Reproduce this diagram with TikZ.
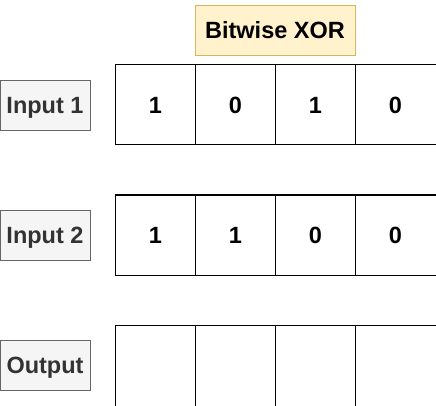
\documentclass[tikz,border=0pt]{standalone}
\usepackage{fontspec}
\setmainfont{Liberation Sans}
\usetikzlibrary{positioning}
\definecolor{xorFill} {HTML}{FFF2CC}
\definecolor{xorLine} {HTML}{D6B656}
\definecolor{tagFill} {HTML}{F5F5F5}
\definecolor{tagLine} {HTML}{666666}
\definecolor{tagInk}  {HTML}{333333}
\tikzset{
  titlebox/.style={draw=xorLine,fill=xorFill,line width=0.8pt,minimum width=160pt,
    minimum height=50pt,inner sep=0pt,font=\fontsize{23.5}{28}\selectfont\bfseries},
  tagbox/.style={draw=tagLine,fill=tagFill,line width=0.8pt,minimum width=90pt,
    minimum height=50pt,inner sep=0pt,text=tagInk,text height=17pt,text depth=0pt,
    font=\fontsize{23.5}{28}\selectfont\bfseries},
  bitcell/.style={draw=black,line width=1pt,minimum width=80pt,minimum height=80pt,
    inner sep=0pt,outer sep=0pt,font=\fontsize{23.5}{28}\selectfont\bfseries}
}
\begin{document}
\begin{tikzpicture}[x=1pt,y=1pt]
  \useasboundingbox[clip] (0,0) rectangle (436,-406);
  \node[titlebox] (title) at (275,-30) {Bitwise XOR};
  % row labels
  \node[tagbox] (in1) at (45,-105) {Input 1};
  \node[tagbox] (in2) at (45,-235) {Input 2};
  \node[tagbox] (out) at (45,-365) {Output};
  % bit cells
  \node[bitcell] (a1) at (155.5,-105) {1};
  \node[bitcell,right=0pt of a1] (a2) {0};
  \node[bitcell,right=0pt of a2] (a3) {1};
  \node[bitcell,minimum width=84pt,right=0pt of a3] (a4) {\hspace*{-4pt}0};
  \node[bitcell] (b1) at (155.5,-235) {1};
  \node[bitcell,right=0pt of b1] (b2) {1};
  \node[bitcell,right=0pt of b2] (b3) {0};
  \node[bitcell,minimum width=84pt,right=0pt of b3] (b4) {\hspace*{-4pt}0};
  \node[bitcell,minimum height=84pt] (c1) at (155.5,-367) {};
  \node[bitcell,minimum height=84pt,right=0pt of c1] (c2) {};
  \node[bitcell,minimum height=84pt,right=0pt of c2] (c3) {};
  \node[bitcell,minimum height=84pt,minimum width=84pt,right=0pt of c3] (c4) {};
\end{tikzpicture}
\end{document}
